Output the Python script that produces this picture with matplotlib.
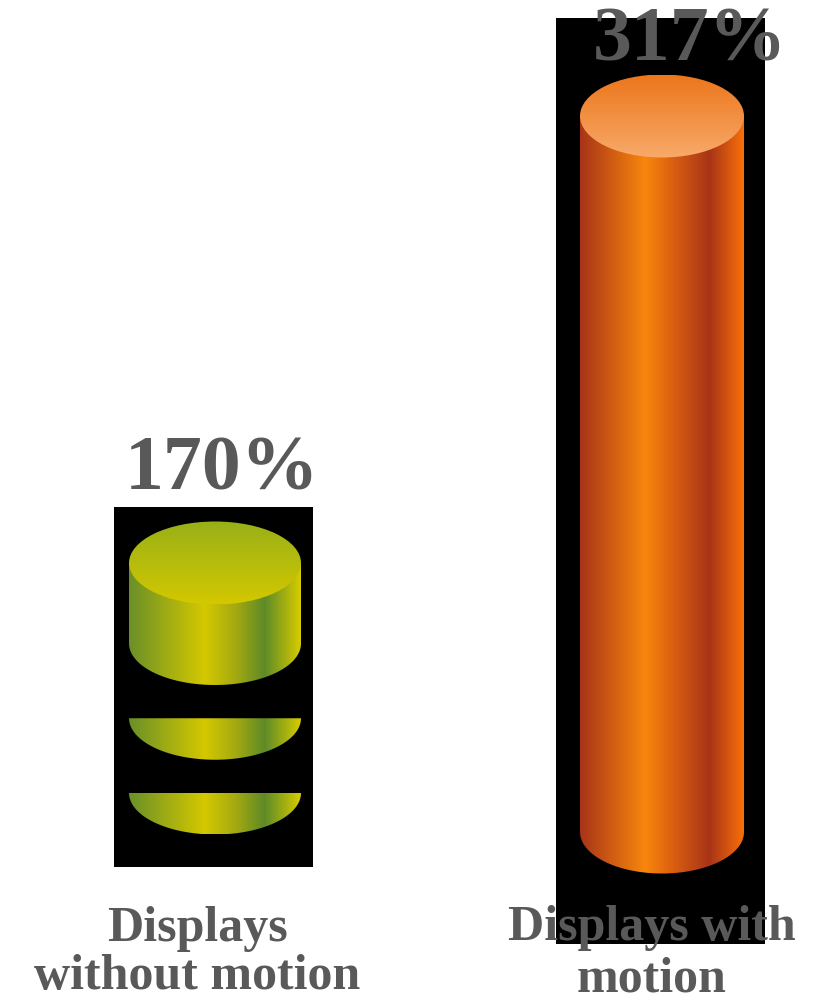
import numpy as np
import matplotlib.pyplot as plt
from matplotlib.patches import Ellipse, PathPatch
from matplotlib.path import Path
from matplotlib.colors import LinearSegmentedColormap

# data
categories = ["Displays\nwithout motion", "Displays with\nmotion"]
values = [170, 317]
value_labels = ["170%", "317%"]

W, H = 816, 1001
fig = plt.figure(figsize=(W / 100, H / 100), dpi=100)
fig.patch.set_facecolor("white")

TEXT = "#595959"
FONT = ["Liberation Serif", "DejaVu Serif"]

# gradients: body (left->right), top (back->front)
body_cmaps = [
    LinearSegmentedColormap.from_list("gb", [(0, "#6a9028"), (0.44, "#d4c800"), (0.62, "#a4aa10"),
                                             (0.79, "#5e8a28"), (1, "#d8cc00")]),
    LinearSegmentedColormap.from_list("ob", [(0, "#a83418"), (0.4, "#f8870c"), (0.56, "#dc6010"),
                                             (0.79, "#a83418"), (1, "#f87008")]),
]
top_cmaps = [
    LinearSegmentedColormap.from_list("gt", ["#98b018", "#d4c800"]),
    LinearSegmentedColormap.from_list("ot", ["#ec761c", "#f8aa6a"]),
]

# layout (pixels): black box, cylinder x-range, baseline y, top y, ellipse half height
boxes = [(114, 507, 313, 867), (556, 18, 765, 944)]
cyl_x = [(129, 301), (580, 744)]
base_px = [793, 832]
top_px = [563, 116]
ry_px = 41.5
# left bar is drawn broken: solid part from this fraction, plus flat slices
body_from = [0.65, 0.0]
slices = [[0.0, 0.325], []]
label_off = [(7, 32), (28, 14)]
cat_pos = [(197, 989), (652, 992)]   # baseline of last line
cat_spacing = [1.05, 1.16]


def half_body(ax, cx, rx, y0, y1, ry, cmap, z):
    t = np.linspace(np.pi, 2 * np.pi, 60)
    xs = np.concatenate([[cx - rx], cx + rx * np.cos(t), [cx + rx, cx - rx]])
    ys = np.concatenate([[y1], y0 + ry * np.sin(t), [y1, y1]])
    patch = PathPatch(Path(np.column_stack([xs, ys])), facecolor="none", edgecolor="none")
    ax.add_patch(patch)
    grad = np.linspace(0, 1, 256)[None, :]
    im = ax.imshow(grad, cmap=cmap, aspect="auto", extent=(cx - rx, cx + rx, y0 - ry, y1),
                   origin="lower", zorder=z, interpolation="bicubic")
    im.set_clip_path(patch)


for i, v in enumerate(values):
    x0, y0, x1, y1 = boxes[i]
    ax = fig.add_axes([x0 / W, 1 - y1 / H, (x1 - x0) / W, (y1 - y0) / H])
    ax.set_facecolor("black")
    ppu = (base_px[i] - top_px[i]) / v
    ax.set_ylim(-(y1 - base_px[i]) / ppu, (base_px[i] - y0) / ppu)
    ax.set_xlim(x0, x1)
    for s in ax.spines.values():
        s.set_visible(False)
    ax.set_xticks([])
    ax.set_yticks([])

    cx = (cyl_x[i][0] + cyl_x[i][1]) / 2
    rx = (cyl_x[i][1] - cyl_x[i][0]) / 2
    ry = ry_px / ppu

    half_body(ax, cx, rx, body_from[i] * v, v, ry, body_cmaps[i], 2)
    for s in slices[i]:
        half_body(ax, cx, rx, s * v, s * v, ry, body_cmaps[i], 2)

    top = Ellipse((cx, v), 2 * rx, 2 * ry, facecolor="none", edgecolor="none")
    ax.add_patch(top)
    vgrad = np.linspace(0, 1, 256)[:, None]
    im = ax.imshow(vgrad, cmap=top_cmaps[i], aspect="auto", extent=(cx - rx, cx + rx, v - ry, v + ry),
                   origin="upper", zorder=3, interpolation="bicubic")
    im.set_clip_path(top)

    ax.annotate(value_labels[i], (cx, v + ry), xytext=label_off[i], textcoords="offset pixels",
                ha="center", va="baseline", fontsize=56, fontweight="bold", color=TEXT,
                family=FONT, annotation_clip=False, zorder=5)

for i, c in enumerate(categories):
    fig.text(cat_pos[i][0] / W, 1 - cat_pos[i][1] / H, c, ha="center", va="baseline",
             fontsize=36, fontweight="bold", color=TEXT, family=FONT,
             linespacing=cat_spacing[i], multialignment="center", zorder=10)

fig.savefig("out.png", dpi=100, facecolor="white")
